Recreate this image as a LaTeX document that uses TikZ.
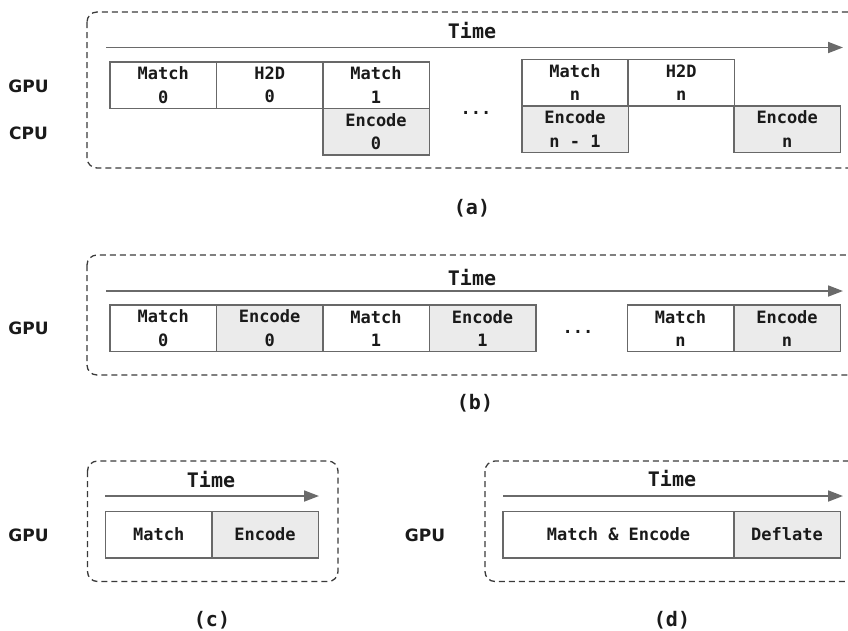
\documentclass[tikz,border=0pt]{standalone}
\usepackage{fontspec}
\usetikzlibrary{arrows.meta}
\newfontfamily\monobold[BoldFont={DejaVu Sans Mono Bold}]{DejaVu Sans Mono}
\newfontfamily\sansbold[BoldFont={DejaVu Sans Bold}]{DejaVu Sans}
\newcommand\cellfnt{\monobold\bfseries\fontsize{17}{23.5}\selectfont}
\newcommand\timefnt{\monobold\bfseries\fontsize{20}{24}\selectfont}
\newcommand\rowfnt{\sansbold\bfseries\fontsize{17}{20}\selectfont}
\definecolor{ink}{HTML}{1A1A1A}
\definecolor{edge}{HTML}{686868}
\definecolor{shade}{HTML}{EBEBEB}
\definecolor{axisc}{HTML}{6A6A6A}
\definecolor{framec}{HTML}{3A3A3A}
\begin{document}
\begin{tikzpicture}[x=1pt,y=-1pt,
  cell/.style={draw=edge,line width=1.5pt,fill=white,inner sep=0pt,
    minimum width=106.5pt,minimum height=46.5pt,align=center,
    font=\cellfnt,text=ink},
  shadecell/.style={cell,fill=shade},
  frame/.style={draw=framec,line width=1.3pt,dash pattern=on 6pt off 4pt,
    rounded corners=10pt},
  timeaxis/.style={draw=axisc,line width=1.8pt,
    -{Triangle[length=15pt,width=11pt]}},
  rowlabel/.style={font=\rowfnt,text=ink},
  timelabel/.style={font=\timefnt,text=ink},
  caption/.style={font=\timefnt,text=ink},
  ellip/.style={font=\cellfnt,text=ink}]

\useasboundingbox (0,0) rectangle (848,630);
\clip (0,0) rectangle (848,630);

% ---------- (a) GPU match + H2D copy, CPU encode ----------
\draw[frame] (87,12) rectangle (858,168);
\node[timelabel] (ta) at (472,31) {Time};
\coordinate (ta0) at (106,47.5);
\coordinate (ta1) at (843,47.5);
\draw[timeaxis] (ta0) -- (ta1);
\node[rowlabel] (agpu) at (28.5,86) {GPU};
\node[rowlabel] (acpu) at (28.5,133) {CPU};
\node[cell] (am0) at (163.3,85) {Match\\0};
\node[cell] (ah0) at (269.7,85) {H2D\\0};
\node[cell] (am1) at (376,85) {Match\\1};
\node[shadecell] (ae0) at (376,131.5) {Encode\\0};
\node[ellip] (adots) at (476,113) {...};
\node[cell] (amn) at (575,82.5) {Match\\n};
\node[cell] (ahn) at (681.2,82.5) {H2D\\n};
\node[shadecell] (aen1) at (575,129.2) {Encode\\n - 1};
\node[shadecell] (aen) at (787.2,129.2) {Encode\\n};
\node[caption] (capa) at (472,208) {(a)};

% ---------- (b) GPU match and encode in turn ----------
\draw[frame] (87,255) rectangle (858,375);
\node[timelabel] (tb) at (472,278) {Time};
\coordinate (tb0) at (106,291);
\coordinate (tb1) at (843,291);
\draw[timeaxis] (tb0) -- (tb1);
\node[rowlabel] (bgpu) at (28.5,328) {GPU};
\node[cell] (bm0) at (163.3,328.3) {Match\\0};
\node[shadecell] (be0) at (269.7,328.3) {Encode\\0};
\node[cell] (bm1) at (376,328.3) {Match\\1};
\node[shadecell] (be1) at (482.5,328.3) {Encode\\1};
\node[ellip] (bdots) at (578,332) {...};
\node[cell] (bmn) at (680.5,328.3) {Match\\n};
\node[shadecell] (ben) at (787,328.3) {Encode\\n};
\node[caption] (capb) at (475,403) {(b)};

% ---------- (c) single match then encode ----------
\draw[frame] (87.5,461) rectangle (338,581.5);
\node[timelabel] (tc) at (211,480) {Time};
\coordinate (tc0) at (105,496);
\coordinate (tc1) at (319,496);
\draw[timeaxis] (tc0) -- (tc1);
\node[rowlabel] (cgpu) at (28.5,535) {GPU};
\node[cell] (cm) at (158.7,534.5) {Match};
\node[shadecell] (ce) at (265,534.5) {Encode};
\node[caption] (capc) at (212,620) {(c)};

% ---------- (d) fused match/encode then deflate ----------
\draw[frame] (485,461) rectangle (858,581.5);
\node[timelabel] (td) at (672,479) {Time};
\coordinate (td0) at (503,496);
\coordinate (td1) at (843,496);
\draw[timeaxis] (td0) -- (td1);
\node[rowlabel] (dgpu) at (425,535) {GPU};
\node[cell,minimum width=231pt] (dme) at (618.5,534.5) {Match \& Encode};
\node[shadecell] (ddf) at (787,534.5) {Deflate};
\node[caption] (capd) at (672,620) {(d)};
\end{tikzpicture}
\end{document}
